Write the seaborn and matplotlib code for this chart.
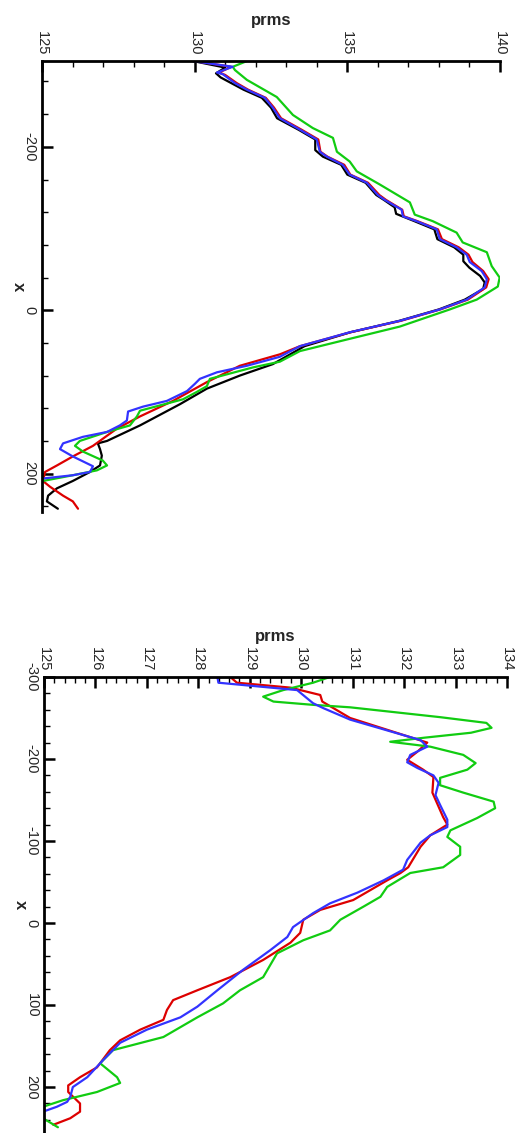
import numpy as np
import matplotlib
matplotlib.use("Agg")
import matplotlib.pyplot as plt
import seaborn as sns
from matplotlib.ticker import MultipleLocator

# ---- top panel data (x position, prms) ----
top_black_x = [-305, -297, -290, -285, -278, -270, -260, -248, -235, -221, -209, -196, -188, -178, -166,
               -156, -141, -135, -126, -118, -109, -99, -87, -77, -68, -60, -52, -42, -34, -26, -13, -1,
               13, 27, 44, 66, 80, 96, 115, 141, 160, 163, 170, 178, 190, 198, 209, 218, 227, 234, 243]
top_black_p = [129.95, 131.0, 130.7, 130.85, 131.2, 131.6, 132.2, 132.5, 132.7, 133.4, 133.95, 133.95,
               134.2, 134.8, 135.0, 135.6, 135.95, 136.2, 136.55, 136.6, 137.2, 137.85, 137.95, 138.5,
               138.8, 138.8, 139.0, 139.35, 139.5, 139.45, 138.85, 138.0, 136.7, 135.1, 133.6, 132.56,
               131.48, 130.40, 129.52, 128.21, 127.13, 126.83, 126.90, 126.96, 126.90, 126.57, 126.01,
               125.49, 125.20, 125.16, 125.52]

top_red_x = [-305, -298, -291, -288, -278, -270, -260, -248, -235, -221, -209, -194, -188, -178, -166,
             -156, -141, -135, -123, -115, -109, -99, -87, -77, -68, -59, -48, -38, -28, -13, -1, 13, 27,
             44, 54, 68, 88, 111, 130, 145, 166, 179, 190, 198, 209, 216, 227, 234, 243]
top_red_p = [130.0, 131.2, 130.8, 131.0, 131.38, 131.75, 132.33, 132.6, 132.83, 133.5, 134.05, 134.12,
             134.35, 134.9, 135.1, 135.68, 136.05, 136.27, 136.8, 136.85, 137.3, 137.97, 138.1, 138.65,
             138.97, 139.1, 139.45, 139.63, 139.55, 138.95, 138.05, 136.75, 135.1, 133.45, 132.79,
             131.48, 130.40, 129.29, 128.21, 127.45, 126.67, 126.01, 125.49, 125.10, 125.03, 125.26,
             125.69, 126.01, 126.18]

top_blue_x = [-305, -298, -291, -289, -278, -270, -260, -248, -235, -221, -209, -194, -188, -178, -166,
              -156, -141, -135, -123, -115, -109, -99, -87, -77, -68, -59, -48, -38, -28, -13, -1, 13, 27,
              44, 57, 68, 76, 84, 90, 99, 111, 118, 124, 135, 141, 149, 155, 163, 170, 179, 191, 198,
              202, 206]
top_blue_p = [129.94, 131.25, 130.73, 130.92, 131.32, 131.71, 132.30, 132.56, 132.79, 133.45, 134.00,
              134.10, 134.33, 134.85, 135.08, 135.64, 136.00, 136.23, 136.78, 136.82, 137.27, 137.93,
              138.03, 138.58, 138.91, 139.01, 139.40, 139.57, 139.50, 138.91, 138.03, 136.72, 135.08,
              133.45, 132.79, 131.71, 130.73, 130.17, 130.01, 129.75, 129.09, 128.31, 127.82, 127.78,
              127.55, 127.13, 126.34, 125.69, 125.59, 126.01, 126.67, 126.57, 126.01, 125.03]

top_green_x = [-305, -298, -294, -282, -261, -239, -223, -211, -194, -182, -170, -154, -132, -117, -109,
               -95, -83, -71, -54, -40, -29, -13, -1, 20, 35, 50, 63, 70, 84, 93, 100, 109, 123, 130,
               141, 149, 160, 166, 173, 184, 190, 196, 202, 209]
top_green_p = [131.71, 131.25, 131.32, 131.71, 132.69, 133.22, 133.87, 134.53, 134.66, 135.08, 135.31,
               136.06, 137.05, 137.21, 137.80, 138.58, 138.78, 139.57, 139.73, 139.99, 139.93, 139.24,
               138.36, 136.72, 135.08, 133.45, 132.79, 131.91, 130.50, 130.40, 130.07, 129.62, 128.21,
               128.11, 127.88, 127.13, 126.24, 126.08, 126.34, 126.99, 127.13, 126.80, 126.01, 125.03]

# ---- bottom panel data ----
bot_red_x = [-300, -293, -287, -278, -270, -250, -220, -209, -199, -187, -178, -159, -129, -120, -107,
             -93, -68, -61, -52, -28, -16, -4, 12, 24, 45, 66, 82, 94, 106, 118, 130, 143, 155, 176,
             188, 198, 206, 220, 230, 238, 246]
bot_red_p = [128.62, 128.75, 129.79, 130.37, 130.41, 130.95, 132.45, 132.26, 132.06, 132.37, 132.57,
             132.55, 132.76, 132.84, 132.51, 132.32, 132.08, 131.93, 131.67, 131.01, 130.37, 130.04,
             129.98, 129.79, 129.26, 128.62, 127.98, 127.51, 127.39, 127.32, 126.87, 126.48, 126.28,
             126.03, 125.70, 125.47, 125.47, 125.70, 125.70, 125.51, 125.18]

bot_blue_x = [-300, -293, -284, -268, -262, -248, -223, -215, -205, -196, -189, -180, -171, -156, -144,
              -126, -117, -107, -98, -77, -65, -52, -37, -24, -12, 5, 17, 33, 57, 82, 102, 115, 130,
              146, 167, 188, 200, 212, 218, 224, 230]
bot_blue_p = [128.37, 128.39, 129.92, 130.23, 130.43, 130.95, 132.32, 132.45, 132.12, 132.06, 132.26,
              132.57, 132.67, 132.61, 132.70, 132.84, 132.84, 132.51, 132.32, 132.06, 131.98, 131.60,
              131.09, 130.56, 130.23, 129.84, 129.73, 129.40, 128.87, 128.37, 127.98, 127.65, 127.00,
              126.48, 126.15, 125.84, 125.56, 125.51, 125.45, 125.25, 124.98]

bot_green_x = [-300, -293, -284, -276, -270, -266, -263, -251, -244, -238, -232, -226, -221, -215, -205,
               -195, -187, -177, -168, -159, -148, -140, -128, -113, -105, -93, -83, -68, -61, -44, -32,
               -20, -4, 9, 21, 37, 66, 82, 98, 115, 139, 155, 171, 188, 195, 206, 216, 224, 231, 238, 249]
bot_green_p = [130.56, 130.23, 129.65, 129.26, 129.46, 130.23, 130.95, 132.7, 133.6, 133.7, 133.3,
               132.4, 131.73, 132.51, 133.15, 133.39, 133.23, 132.70, 132.70, 133.15, 133.74, 133.77,
               133.42, 132.90, 132.84, 133.09, 133.09, 132.76, 132.12, 131.67, 131.54, 131.21, 130.76,
               130.56, 130.04, 129.53, 129.26, 128.81, 128.48, 127.98, 127.32, 126.34, 126.09, 126.42,
               126.48, 126.03, 125.37, 124.98, 124.8, 124.98, 125.27]

RED = "#dd0000"
BLUE = "#3333ff"
GREEN = "#11cc11"

sns.set_theme(style="white")
plt.rcParams["font.family"] = ["Liberation Sans", "DejaVu Sans"]
plt.rcParams["axes.unicode_minus"] = False

fig = plt.figure(figsize=(5.21, 11.33), dpi=100)
ax1 = fig.add_axes([0.0806, 0.5481, 0.879, 0.398])
ax2 = fig.add_axes([0.0845, 0.0, 0.8886, 0.4025])

lw = 1.6
top_series = [(top_black_p, top_black_x, "black"), (top_red_p, top_red_x, RED),
              (top_green_p, top_green_x, GREEN), (top_blue_p, top_blue_x, BLUE)]
bot_series = [(bot_red_p, bot_red_x, RED), (bot_green_p, bot_green_x, GREEN),
              (bot_blue_p, bot_blue_x, BLUE)]

for ax, series in [(ax1, top_series), (ax2, bot_series)]:
    for p, xv, c in series:
        sns.lineplot(x=p, y=xv, sort=False, estimator=None, color=c, linewidth=lw, ax=ax)

def style(ax, xlim, ylim, pmaj, pmin, xmaj, xmin):
    ax.set_xlim(*xlim)
    ax.set_ylim(*ylim)
    ax.xaxis.set_major_locator(MultipleLocator(pmaj))
    ax.xaxis.set_minor_locator(MultipleLocator(pmin))
    ax.yaxis.set_major_locator(MultipleLocator(xmaj))
    ax.yaxis.set_minor_locator(MultipleLocator(xmin))
    ax.xaxis.tick_top()
    ax.xaxis.set_label_position("top")
    for s in ["right", "bottom"]:
        ax.spines[s].set_visible(False)
    for s in ["left", "top"]:
        ax.spines[s].set_linewidth(2)
        ax.spines[s].set_color("black")
    ax.tick_params(which="major", direction="in", length=8, width=1.8, color="black",
                   labelsize=10.5, pad=4, top=True, left=True, bottom=False, right=False)
    ax.tick_params(which="minor", direction="in", length=4, width=1.0, color="black",
                   top=True, left=True, bottom=False, right=False)
    for lab in ax.get_xticklabels() + ax.get_yticklabels():
        lab.set_rotation(-90)
    for lab in ax.get_xticklabels():
        lab.set_va("bottom")
        lab.set_ha("center")
    for lab in ax.get_yticklabels():
        lab.set_va("center")
        lab.set_ha("right")
    ax.set_xlabel("prms", fontsize=12, fontweight="bold", labelpad=4)
    ax.set_ylabel("x", fontsize=12, fontweight="bold", rotation=-90, labelpad=8)

style(ax1, (125, 140), (247, -305), 5, 1, 200, 40)
style(ax2, (125, 134), (256, -300), 1, 0.2, 100, 20)

fig.savefig("out.png", dpi=100)
